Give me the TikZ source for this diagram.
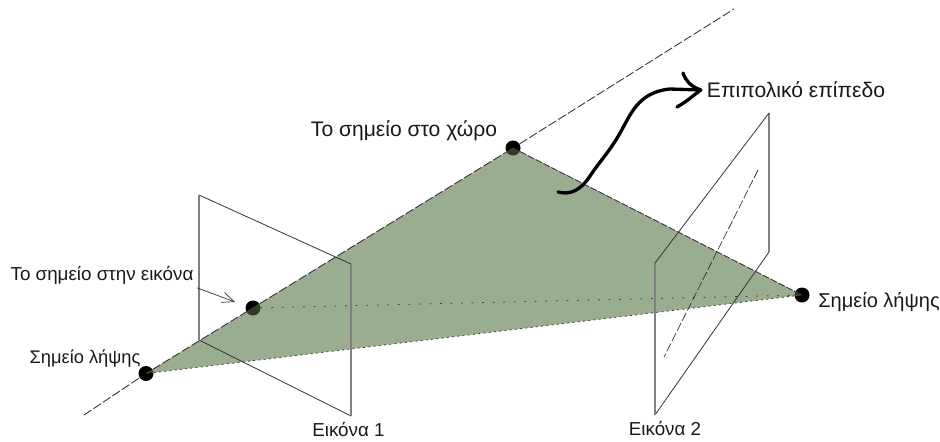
\documentclass[tikz,border=0pt]{standalone}
\usepackage{fontspec}
\setmainfont{Liberation Sans}
\usepackage{xcolor}
\usetikzlibrary{arrows.meta}
\definecolor{planegreen}{HTML}{9BAD90}
\definecolor{dotgreen}{HTML}{2F3B27}
\tikzset{
    ptdot/.style={circle, fill=black, inner sep=0pt, minimum size=0.3cm},
    frameedge/.style={black!80, line width=0.45pt},
    frameside/.style={black!50, line width=0.6pt},
    sightline/.style={black!80, line width=0.5pt, dash pattern=on 5pt off 1.5pt},
    rayline/.style={black!75, line width=0.5pt, dash pattern=on 1pt off 2pt},
    lbl/.style={font=\fontsize{12pt}{14pt}\selectfont, text=black!90},
    smalllbl/.style={font=\fontsize{10.7pt}{12pt}\selectfont, text=black!90},
    handline/.style={line width=1.9pt, line cap=round, line join=round}
}

\begin{document}
\begin{tikzpicture}
    \useasboundingbox (0,0) rectangle (18.8,8.82);

    % Points
    \node[ptdot] (left) at (2.92,1.35) {};
    \node[ptdot] (top) at (10.26,5.86) {};
    \node[ptdot] (right) at (16.04,2.92) {};
    \node[ptdot] (image) at (5.06,2.66) {};

    % Epipolar plane
    \fill[planegreen] (left.center) -- (top.center) -- (right.center) -- cycle;
    \begin{scope}
        \clip (left.center) -- (top.center) -- (right.center) -- cycle;
        \foreach \p in {left, top, right, image} {
            \fill[dotgreen] (\p) circle (0.15);
        }
    \end{scope}

    % Line through the point and the first capture point
    \coordinate (lowend) at (1.68,0.52);
    \coordinate (highend) at (14.68,8.64);
    \draw[sightline] (lowend) -- (left);
    \draw[sightline] (left) -- (top);
    \draw[sightline] (top) -- (highend);
    \draw[sightline, dash pattern=on 4pt off 1pt] (top) -- (right);
    \draw[rayline] (left) -- (right);
    \draw[rayline, dash pattern=on 1pt off 5pt] (image) -- (right);

    % Image 1
    \coordinate (a1) at (3.98,4.92);
    \coordinate (a2) at (7.02,3.54);
    \coordinate (a3) at (7.02,0.50);
    \coordinate (a4) at (3.98,2.02);
    \draw[frameedge] (a1) -- (a2);
    \draw[frameedge] (a3) -- (a4);
    \draw[frameside] (a2) -- (a3);
    \draw[frameside] (a4) -- (a1);

    % Image 2
    \coordinate (b1) at (15.38,6.56);
    \coordinate (b2) at (15.38,3.78);
    \coordinate (b3) at (13.10,0.52);
    \coordinate (b4) at (13.10,3.56);
    \draw[frameside] (b1) -- (b2);
    \draw[frameedge] (b2) -- (b3);
    \draw[frameside] (b3) -- (b4);
    \draw[frameedge] (b4) -- (b1);
    \coordinate (c1) at (15.16,5.42);
    \coordinate (c2) at (13.28,1.68);
    \draw[sightline, line width=0.4pt] (c1) -- (c2);

    % Labels
    \node[lbl] (toplbl) at (8.08,6.20) {Το σημείο στο χώρο};
    \node[smalllbl, inner sep=2pt] (imglbl) at (2.04,3.32) {Το σημείο στην εικόνα};
    \node[smalllbl, font=\fontsize{10.4pt}{12pt}\selectfont] (leftlbl) at (1.70,1.64) {Σημείο λήψης};
    \node[lbl, font=\fontsize{11.4pt}{14pt}\selectfont] (rightlbl) at (17.58,2.78) {Σημείο λήψης};
    \node[smalllbl] (onelbl) at (6.97,0.24) {Εικόνα 1};
    \node[smalllbl] (twolbl) at (13.30,0.26) {Εικόνα 2};
    \node[lbl] (epilbl) at (15.92,7.02) {Επιπολικό επίπεδο};

    % Small arrow to the image point
    \coordinate (imgtip) at (4.70,2.78);
    \draw[-{Straight Barb[length=7pt,width=6pt]}, black!80, line width=0.4pt] (imglbl.south east) -- (imgtip);

    % Hand drawn arrow
    \coordinate (curvestart) at (11.16,4.98);
    \coordinate (barbup) at (13.66,7.36);
    \coordinate (barbdown) at (13.54,6.68);
    \draw[handline] (curvestart)
        .. controls (11.4,4.92) and (11.6,5.0) .. (11.8,5.3)
        .. controls (12.0,5.6) and (12.2,5.8) .. (12.4,6.16)
        .. controls (12.6,6.5) and (12.75,6.98) .. (13.4,7.04)
        -- (epilbl.west);
    \draw[handline] (barbup)
        .. controls (13.72,7.2) and (13.8,7.1) .. (epilbl.west)
        .. controls (13.85,6.9) and (13.75,6.8) .. (barbdown);
\end{tikzpicture}
\end{document}
